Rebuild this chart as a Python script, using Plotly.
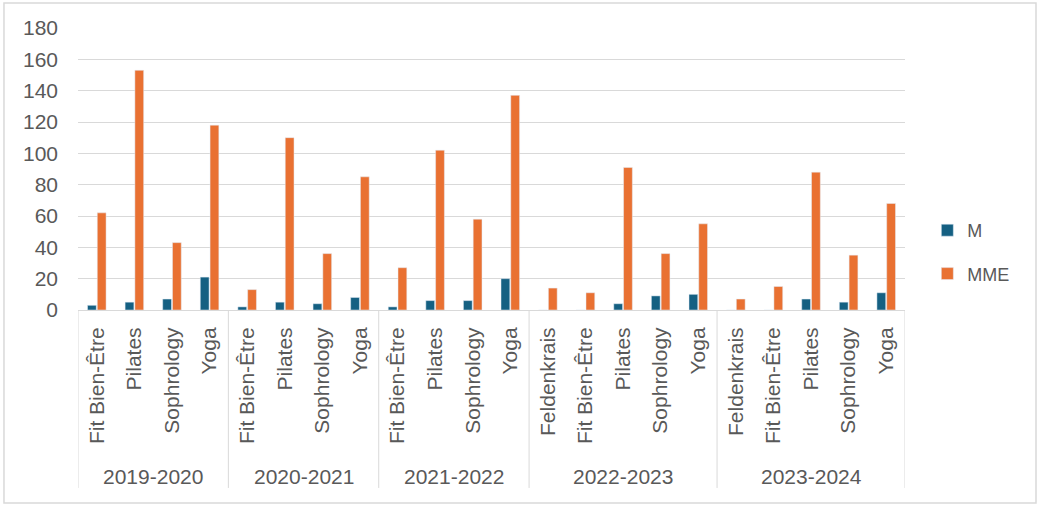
import plotly.graph_objects as go

# seasons and activities (one entry per category slot, left to right)
seasons = ["2019-2020"] * 4 + ["2020-2021"] * 4 + ["2021-2022"] * 4 + ["2022-2023"] * 5 + ["2023-2024"] * 5
activities = [
    "Fit Bien-Être", "Pilates", "Sophrology", "Yoga",
    "Fit Bien-Être", "Pilates", "Sophrology", "Yoga",
    "Fit Bien-Être", "Pilates", "Sophrology", "Yoga",
    "Feldenkrais", "Fit Bien-Être", "Pilates", "Sophrology", "Yoga",
    "Feldenkrais", "Fit Bien-Être", "Pilates", "Sophrology", "Yoga",
]

# values
m_values = [3, 5, 7, 21,
            2, 5, 4, 8,
            2, 6, 6, 20,
            0, 0, 4, 9, 10,
            0, 0, 7, 5, 11]
mme_values = [62, 153, 43, 118,
              13, 110, 36, 85,
              27, 102, 58, 137,
              14, 11, 91, 36, 55,
              7, 15, 88, 35, 68]

y_ticks = [0, 20, 40, 60, 80, 100, 120, 140, 160, 180]

text_col = "#595959"
grid_col = "#d9d9d9"
font_family = "Liberation Sans"

slots = list(range(len(activities)))

fig = go.Figure()
fig.add_bar(x=slots, y=m_values, name="M",
            marker_color="#156082", legend="legend")
fig.add_bar(x=slots, y=mme_values, name="MME",
            marker_color="#E97132", legend="legend2")

# season groups: label under each group, divider lines between them
season_names = list(dict.fromkeys(seasons))
bounds = [-0.5]
for s in season_names:
    idx = [i for i, v in enumerate(seasons) if v == s]
    fig.add_annotation(x=sum(idx) / len(idx), y=-0.589, xref="x", yref="paper",
                       text=s, showarrow=False, yanchor="middle",
                       font=dict(size=21, color=text_col, family=font_family))
    bounds.append(idx[-1] + 0.5)
for b in bounds:
    fig.add_shape(type="line", xref="x", yref="paper", x0=b, x1=b, y0=0, y1=-0.631,
                  line=dict(color=grid_col, width=1))

# border around the whole chart
fig.add_shape(type="rect", xref="paper", yref="paper",
              x0=-0.0895, x1=1.1584, y0=-0.684, y1=1.0887,
              line=dict(color="#d9d9d9", width=1.5), layer="below")

legend_style = dict(font=dict(size=18, color=text_col, family=font_family),
                    bgcolor="rgba(0,0,0,0)", xanchor="left", yanchor="middle",
                    itemwidth=30)

fig.update_layout(
    width=1040, height=507,
    margin=dict(l=78, r=135, t=28, b=197),
    paper_bgcolor="white", plot_bgcolor="white",
    font=dict(family=font_family, color=text_col, size=20),
    barmode="group", bargap=0.48, bargroupgap=0.1,
    showlegend=True,
    legend=dict(x=1.027, y=0.282, **legend_style),
    legend2=dict(x=1.027, y=0.128, **legend_style),
    xaxis=dict(
        range=[-0.5, len(activities) - 0.5], tickmode="array",
        tickvals=slots, ticktext=activities, tickangle=-90,
        showline=True, linecolor=grid_col, linewidth=1, showgrid=False,
        zeroline=False, ticks="", tickfont=dict(size=21, color=text_col),
        ticklabelstandoff=8,
    ),
    yaxis=dict(
        range=[0, 180], tickvals=y_ticks, showgrid=True,
        gridcolor=grid_col, gridwidth=1, zeroline=False,
        tickfont=dict(size=21, color=text_col), ticks="",
        ticklabelstandoff=19,
    ),
)

# page body has a default margin; drop it so the figure sits at the window corner
fig.write_html("out.html", config={"displayModeBar": False},
               post_script="document.body.style.margin = '0';")
